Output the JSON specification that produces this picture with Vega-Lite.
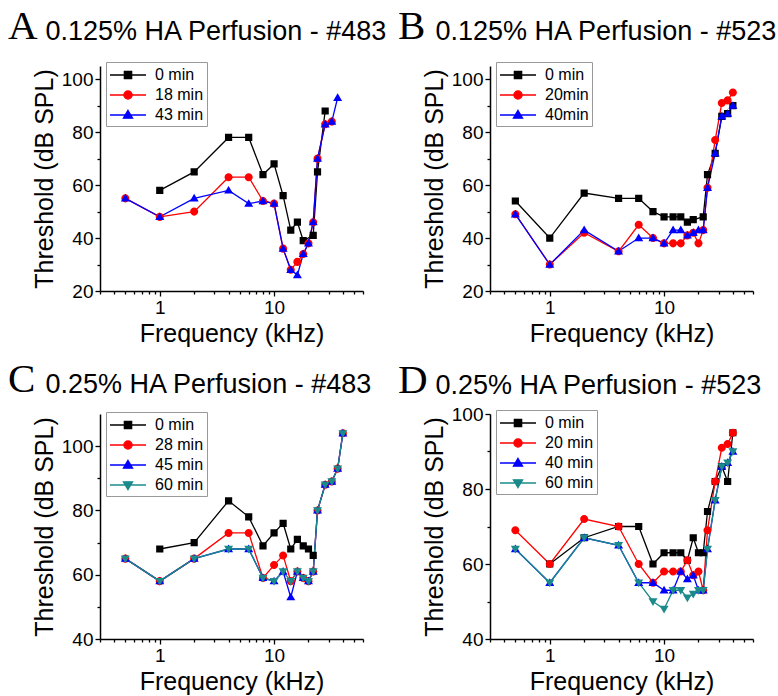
{
 "$schema": "https://vega.github.io/schema/vega-lite/v6.json",
 "padding": {"left": 8, "top": 5, "right": 5, "bottom": 5},
 "columns": 2,
 "spacing": {"row": 123, "column": 127},
 "bounds": "flush",
 "datasets": {
  "A": [
   {"series":"0 min","freq":1,"db":58},{"series":"0 min","freq":2,"db":65},{"series":"0 min","freq":4,"db":78},{"series":"0 min","freq":6,"db":78},{"series":"0 min","freq":8,"db":64},{"series":"0 min","freq":10,"db":68},{"series":"0 min","freq":12,"db":56},{"series":"0 min","freq":14,"db":43},{"series":"0 min","freq":16,"db":46},{"series":"0 min","freq":18,"db":39},{"series":"0 min","freq":22,"db":41},{"series":"0 min","freq":24,"db":65},{"series":"0 min","freq":28,"db":88},
   {"series":"18 min","freq":0.5,"db":55},{"series":"18 min","freq":1,"db":48},{"series":"18 min","freq":2,"db":50},{"series":"18 min","freq":4,"db":63},{"series":"18 min","freq":6,"db":63},{"series":"18 min","freq":8,"db":54},{"series":"18 min","freq":10,"db":53},{"series":"18 min","freq":12,"db":36},{"series":"18 min","freq":14,"db":28},{"series":"18 min","freq":16,"db":31},{"series":"18 min","freq":18,"db":34},{"series":"18 min","freq":20,"db":38},{"series":"18 min","freq":22,"db":46},{"series":"18 min","freq":24,"db":70},{"series":"18 min","freq":28,"db":83},{"series":"18 min","freq":32,"db":84},
   {"series":"43 min","freq":0.5,"db":55},{"series":"43 min","freq":1,"db":48},{"series":"43 min","freq":2,"db":55},{"series":"43 min","freq":4,"db":58},{"series":"43 min","freq":6,"db":53},{"series":"43 min","freq":8,"db":54},{"series":"43 min","freq":10,"db":53},{"series":"43 min","freq":12,"db":36},{"series":"43 min","freq":14,"db":28},{"series":"43 min","freq":16,"db":26},{"series":"43 min","freq":18,"db":34},{"series":"43 min","freq":20,"db":38},{"series":"43 min","freq":22,"db":46},{"series":"43 min","freq":24,"db":70},{"series":"43 min","freq":28,"db":83},{"series":"43 min","freq":32,"db":84},{"series":"43 min","freq":36,"db":93}
  ],
  "B": [
   {"series":"0 min","freq":0.5,"db":54},{"series":"0 min","freq":1,"db":40},{"series":"0 min","freq":2,"db":57},{"series":"0 min","freq":4,"db":55},{"series":"0 min","freq":6,"db":55},{"series":"0 min","freq":8,"db":50},{"series":"0 min","freq":10,"db":48},{"series":"0 min","freq":12,"db":48},{"series":"0 min","freq":14,"db":48},{"series":"0 min","freq":16,"db":46},{"series":"0 min","freq":18,"db":47},{"series":"0 min","freq":22,"db":48},{"series":"0 min","freq":24,"db":64},{"series":"0 min","freq":28,"db":72},{"series":"0 min","freq":32,"db":86},{"series":"0 min","freq":36,"db":87},{"series":"0 min","freq":40,"db":90},
   {"series":"20min","freq":0.5,"db":49},{"series":"20min","freq":1,"db":30},{"series":"20min","freq":2,"db":42},{"series":"20min","freq":4,"db":35},{"series":"20min","freq":6,"db":45},{"series":"20min","freq":8,"db":40},{"series":"20min","freq":10,"db":38},{"series":"20min","freq":12,"db":38},{"series":"20min","freq":14,"db":38},{"series":"20min","freq":16,"db":41},{"series":"20min","freq":18,"db":42},{"series":"20min","freq":20,"db":38},{"series":"20min","freq":22,"db":43},{"series":"20min","freq":24,"db":59},{"series":"20min","freq":28,"db":77},{"series":"20min","freq":32,"db":91},{"series":"20min","freq":36,"db":92},{"series":"20min","freq":40,"db":95},
   {"series":"40min","freq":0.5,"db":49},{"series":"40min","freq":1,"db":30},{"series":"40min","freq":2,"db":43},{"series":"40min","freq":4,"db":35},{"series":"40min","freq":6,"db":40},{"series":"40min","freq":8,"db":40},{"series":"40min","freq":10,"db":38},{"series":"40min","freq":12,"db":43},{"series":"40min","freq":14,"db":43},{"series":"40min","freq":16,"db":41},{"series":"40min","freq":18,"db":42},{"series":"40min","freq":20,"db":43},{"series":"40min","freq":22,"db":43},{"series":"40min","freq":24,"db":59},{"series":"40min","freq":28,"db":72},{"series":"40min","freq":32,"db":86},{"series":"40min","freq":36,"db":87},{"series":"40min","freq":40,"db":90}
  ],
  "C": [
   {"series":"0 min","freq":1,"db":68},{"series":"0 min","freq":2,"db":70},{"series":"0 min","freq":4,"db":83},{"series":"0 min","freq":6,"db":78},{"series":"0 min","freq":8,"db":69},{"series":"0 min","freq":10,"db":73},{"series":"0 min","freq":12,"db":76},{"series":"0 min","freq":14,"db":68},{"series":"0 min","freq":16,"db":71},{"series":"0 min","freq":18,"db":69},{"series":"0 min","freq":20,"db":68},{"series":"0 min","freq":22,"db":66},
   {"series":"28 min","freq":0.5,"db":65},{"series":"28 min","freq":1,"db":58},{"series":"28 min","freq":2,"db":65},{"series":"28 min","freq":4,"db":73},{"series":"28 min","freq":6,"db":73},{"series":"28 min","freq":8,"db":59},{"series":"28 min","freq":10,"db":63},{"series":"28 min","freq":12,"db":66},{"series":"28 min","freq":14,"db":58},{"series":"28 min","freq":16,"db":61},{"series":"28 min","freq":18,"db":59},{"series":"28 min","freq":20,"db":58},{"series":"28 min","freq":22,"db":61},{"series":"28 min","freq":24,"db":80},{"series":"28 min","freq":28,"db":88},{"series":"28 min","freq":32,"db":89},{"series":"28 min","freq":36,"db":93},{"series":"28 min","freq":40,"db":104},
   {"series":"45 min","freq":0.5,"db":65},{"series":"45 min","freq":1,"db":58},{"series":"45 min","freq":2,"db":65},{"series":"45 min","freq":4,"db":68},{"series":"45 min","freq":6,"db":68},{"series":"45 min","freq":8,"db":59},{"series":"45 min","freq":10,"db":58},{"series":"45 min","freq":12,"db":61},{"series":"45 min","freq":14,"db":53},{"series":"45 min","freq":16,"db":61},{"series":"45 min","freq":18,"db":59},{"series":"45 min","freq":20,"db":58},{"series":"45 min","freq":22,"db":61},{"series":"45 min","freq":24,"db":80},{"series":"45 min","freq":28,"db":88},{"series":"45 min","freq":32,"db":89},{"series":"45 min","freq":36,"db":93},{"series":"45 min","freq":40,"db":104},
   {"series":"60 min","freq":0.5,"db":65},{"series":"60 min","freq":1,"db":58},{"series":"60 min","freq":2,"db":65},{"series":"60 min","freq":4,"db":68},{"series":"60 min","freq":6,"db":68},{"series":"60 min","freq":8,"db":59},{"series":"60 min","freq":10,"db":58},{"series":"60 min","freq":12,"db":61},{"series":"60 min","freq":14,"db":58},{"series":"60 min","freq":16,"db":61},{"series":"60 min","freq":18,"db":59},{"series":"60 min","freq":20,"db":58},{"series":"60 min","freq":22,"db":61},{"series":"60 min","freq":24,"db":80},{"series":"60 min","freq":28,"db":88},{"series":"60 min","freq":32,"db":89},{"series":"60 min","freq":36,"db":93},{"series":"60 min","freq":40,"db":104}
  ],
  "D": [
   {"series":"0 min","freq":1,"db":60},{"series":"0 min","freq":2,"db":67},{"series":"0 min","freq":4,"db":70},{"series":"0 min","freq":6,"db":70},{"series":"0 min","freq":8,"db":60},{"series":"0 min","freq":10,"db":63},{"series":"0 min","freq":12,"db":63},{"series":"0 min","freq":14,"db":63},{"series":"0 min","freq":16,"db":61},{"series":"0 min","freq":18,"db":67},{"series":"0 min","freq":20,"db":63},{"series":"0 min","freq":22,"db":63},{"series":"0 min","freq":24,"db":74},{"series":"0 min","freq":28,"db":82},{"series":"0 min","freq":32,"db":86},{"series":"0 min","freq":36,"db":82},{"series":"0 min","freq":40,"db":95},
   {"series":"20 min","freq":0.5,"db":69},{"series":"20 min","freq":1,"db":60},{"series":"20 min","freq":2,"db":72},{"series":"20 min","freq":4,"db":70},{"series":"20 min","freq":6,"db":60},{"series":"20 min","freq":8,"db":55},{"series":"20 min","freq":10,"db":58},{"series":"20 min","freq":12,"db":58},{"series":"20 min","freq":14,"db":58},{"series":"20 min","freq":16,"db":61},{"series":"20 min","freq":18,"db":57},{"series":"20 min","freq":20,"db":58},{"series":"20 min","freq":22,"db":53},{"series":"20 min","freq":24,"db":69},{"series":"20 min","freq":28,"db":82},{"series":"20 min","freq":32,"db":91},{"series":"20 min","freq":36,"db":92},{"series":"20 min","freq":40,"db":95},
   {"series":"40 min","freq":0.5,"db":64},{"series":"40 min","freq":1,"db":55},{"series":"40 min","freq":2,"db":67},{"series":"40 min","freq":4,"db":65},{"series":"40 min","freq":6,"db":55},{"series":"40 min","freq":8,"db":55},{"series":"40 min","freq":10,"db":53},{"series":"40 min","freq":12,"db":53},{"series":"40 min","freq":14,"db":58},{"series":"40 min","freq":16,"db":56},{"series":"40 min","freq":18,"db":57},{"series":"40 min","freq":20,"db":53},{"series":"40 min","freq":22,"db":53},{"series":"40 min","freq":24,"db":64},{"series":"40 min","freq":28,"db":77},{"series":"40 min","freq":32,"db":86},{"series":"40 min","freq":36,"db":87},{"series":"40 min","freq":40,"db":90},
   {"series":"60 min","freq":0.5,"db":64},{"series":"60 min","freq":1,"db":55},{"series":"60 min","freq":2,"db":67},{"series":"60 min","freq":4,"db":65},{"series":"60 min","freq":6,"db":55},{"series":"60 min","freq":8,"db":50},{"series":"60 min","freq":10,"db":48},{"series":"60 min","freq":12,"db":53},{"series":"60 min","freq":14,"db":53},{"series":"60 min","freq":16,"db":51},{"series":"60 min","freq":18,"db":52},{"series":"60 min","freq":20,"db":53},{"series":"60 min","freq":22,"db":53},{"series":"60 min","freq":24,"db":64},{"series":"60 min","freq":28,"db":77},{"series":"60 min","freq":32,"db":86},{"series":"60 min","freq":36,"db":87},{"series":"60 min","freq":40,"db":90}
  ]
 },
 "concat": [
  {
   "title": {"text": "A", "subtitle": "\u200b\u00a0\u00a0\u00a0\u00a0\u00a00.125% HA Perfusion - #483", "offset": 14},
   "width": 263, "height": 225,
   "data": {"name": "A"},
   "encoding": {
    "color": {"field": "series", "type": "nominal",
     "scale": {"domain": ["0 min", "18 min", "43 min"], "range": ["#000000", "#ff0000", "#0000ff"]},
     "legend": {"orient": "none", "legendX": 6, "legendY": -4, "title": null, "padding": 3, "strokeColor": "#999999", "fillColor": "#ffffff", "labelFontSize": 16, "labelColor": "#000000", "symbolSize": 324, "symbolOffset": 9, "labelOffset": 17, "rowPadding": 2, "symbolStrokeWidth": 1.4, "symbolOpacity": 1}
    }
   },
   "layer": [
    {"mark": {"type": "line", "strokeWidth": 1.3},
     "encoding": {
      "x": {"field": "freq", "type": "quantitative", "scale": {"type": "log", "domain": [0.3, 60], "nice": false}, "axis": {"values": [1, 10], "format": "d", "tickSize": 5, "labelPadding": 2, "title": "Frequency (kHz)", "titlePadding": 4}},
      "y": {"field": "db", "type": "quantitative", "scale": {"domain": [20, 105], "nice": false}, "axis": {"values": [20, 40, 60, 80, 100], "tickSize": 5, "labelPadding": 2, "title": "Threshold (dB SPL)", "titlePadding": 4}}
     }},
    {"mark": {"type": "point", "filled": true, "size": 324, "opacity": 1, "strokeWidth": 0},
     "encoding": {
      "x": {"field": "freq", "type": "quantitative", "axis": {"orient": "bottom", "values": [0.3,0.4,0.5,0.6,0.7,0.8,0.9,2,3,4,5,6,7,8,9,20,30,40,50,60], "labels": false, "domain": false, "tickSize": 3, "title": null}},
      "y": {"field": "db", "type": "quantitative", "axis": {"orient": "left", "values": [30, 50, 70, 90], "labels": false, "domain": false, "tickSize": 3, "title": null}},
      "shape": {"field": "series", "type": "nominal", "scale": {"domain": ["0 min", "18 min", "43 min"], "range": ["M-2,0H2M-0.4,-0.4H0.4V0.4H-0.4Z", "M-2,0H2M0.45,0A0.45,0.45,0,1,1,-0.45,0A0.45,0.45,0,1,1,0.45,0Z", "M-2,0H2M0,-0.5L0.5,0.35H-0.5Z"]}, "legend": null},
      "stroke": {"field": "series", "type": "nominal", "scale": {"domain": ["0 min", "18 min", "43 min"], "range": ["#000000", "#ff0000", "#0000ff"]}, "legend": null}
     }}
   ],
   "resolve": {"axis": {"x": "independent", "y": "independent"}}
  },
  {
   "title": {"text": "B", "subtitle": "\u200b\u00a0\u00a0\u00a0\u00a0\u00a00.125% HA Perfusion - #523", "offset": 14},
   "width": 263, "height": 225,
   "data": {"name": "B"},
   "encoding": {
    "color": {"field": "series", "type": "nominal",
     "scale": {"domain": ["0 min", "20min", "40min"], "range": ["#000000", "#ff0000", "#0000ff"]},
     "legend": {"orient": "none", "legendX": 6, "legendY": -4, "title": null, "padding": 3, "strokeColor": "#999999", "fillColor": "#ffffff", "labelFontSize": 16, "labelColor": "#000000", "symbolSize": 324, "symbolOffset": 9, "labelOffset": 17, "rowPadding": 2, "symbolStrokeWidth": 1.4, "symbolOpacity": 1}
    }
   },
   "layer": [
    {"mark": {"type": "line", "strokeWidth": 1.3},
     "encoding": {
      "x": {"field": "freq", "type": "quantitative", "scale": {"type": "log", "domain": [0.3, 60], "nice": false}, "axis": {"values": [1, 10], "format": "d", "tickSize": 5, "labelPadding": 2, "title": "Frequency (kHz)", "titlePadding": 4}},
      "y": {"field": "db", "type": "quantitative", "scale": {"domain": [20, 105], "nice": false}, "axis": {"values": [20, 40, 60, 80, 100], "tickSize": 5, "labelPadding": 2, "title": "Threshold (dB SPL)", "titlePadding": 4}}
     }},
    {"mark": {"type": "point", "filled": true, "size": 324, "opacity": 1, "strokeWidth": 0},
     "encoding": {
      "x": {"field": "freq", "type": "quantitative", "axis": {"orient": "bottom", "values": [0.3,0.4,0.5,0.6,0.7,0.8,0.9,2,3,4,5,6,7,8,9,20,30,40,50,60], "labels": false, "domain": false, "tickSize": 3, "title": null}},
      "y": {"field": "db", "type": "quantitative", "axis": {"orient": "left", "values": [30, 50, 70, 90], "labels": false, "domain": false, "tickSize": 3, "title": null}},
      "shape": {"field": "series", "type": "nominal", "scale": {"domain": ["0 min", "20min", "40min"], "range": ["M-2,0H2M-0.4,-0.4H0.4V0.4H-0.4Z", "M-2,0H2M0.45,0A0.45,0.45,0,1,1,-0.45,0A0.45,0.45,0,1,1,0.45,0Z", "M-2,0H2M0,-0.5L0.5,0.35H-0.5Z"]}, "legend": null},
      "stroke": {"field": "series", "type": "nominal", "scale": {"domain": ["0 min", "20min", "40min"], "range": ["#000000", "#ff0000", "#0000ff"]}, "legend": null}
     }}
   ],
   "resolve": {"axis": {"x": "independent", "y": "independent"}}
  },
  {
   "title": {"text": "C", "subtitle": "\u200b\u00a0\u00a0\u00a0\u00a0\u00a00.25% HA Perfusion - #483", "offset": 11},
   "width": 263, "height": 225,
   "data": {"name": "C"},
   "encoding": {
    "color": {"field": "series", "type": "nominal",
     "scale": {"domain": ["0 min", "28 min", "45 min", "60 min"], "range": ["#000000", "#ff0000", "#0000ff", "#1a8a8a"]},
     "legend": {"orient": "none", "legendX": 6, "legendY": -2, "title": null, "padding": 3, "strokeColor": "#999999", "fillColor": "#ffffff", "labelFontSize": 16, "labelColor": "#000000", "symbolSize": 324, "symbolOffset": 9, "labelOffset": 17, "rowPadding": 2, "symbolStrokeWidth": 1.4, "symbolOpacity": 1}
    }
   },
   "layer": [
    {"mark": {"type": "line", "strokeWidth": 1.3},
     "encoding": {
      "x": {"field": "freq", "type": "quantitative", "scale": {"type": "log", "domain": [0.3, 60], "nice": false}, "axis": {"values": [1, 10], "format": "d", "tickSize": 5, "labelPadding": 2, "title": "Frequency (kHz)", "titlePadding": 4}},
      "y": {"field": "db", "type": "quantitative", "scale": {"domain": [40, 110], "nice": false}, "axis": {"values": [40, 60, 80, 100], "tickSize": 5, "labelPadding": 2, "title": "Threshold (dB SPL)", "titlePadding": 4}}
     }},
    {"mark": {"type": "point", "filled": true, "size": 324, "opacity": 1, "strokeWidth": 0},
     "encoding": {
      "x": {"field": "freq", "type": "quantitative", "axis": {"orient": "bottom", "values": [0.3,0.4,0.5,0.6,0.7,0.8,0.9,2,3,4,5,6,7,8,9,20,30,40,50,60], "labels": false, "domain": false, "tickSize": 3, "title": null}},
      "y": {"field": "db", "type": "quantitative", "axis": {"orient": "left", "values": [50, 70, 90], "labels": false, "domain": false, "tickSize": 3, "title": null}},
      "shape": {"field": "series", "type": "nominal", "scale": {"domain": ["0 min", "28 min", "45 min", "60 min"], "range": ["M-2,0H2M-0.4,-0.4H0.4V0.4H-0.4Z", "M-2,0H2M0.45,0A0.45,0.45,0,1,1,-0.45,0A0.45,0.45,0,1,1,0.45,0Z", "M-2,0H2M0,-0.5L0.5,0.35H-0.5Z", "M-2,0H2M0,0.5L0.5,-0.35H-0.5Z"]}, "legend": null},
      "stroke": {"field": "series", "type": "nominal", "scale": {"domain": ["0 min", "28 min", "45 min", "60 min"], "range": ["#000000", "#ff0000", "#0000ff", "#1a8a8a"]}, "legend": null}
     }}
   ],
   "resolve": {"axis": {"x": "independent", "y": "independent"}}
  },
  {
   "title": {"text": "D", "subtitle": "\u200b\u00a0\u00a0\u00a0\u00a0\u00a00.25% HA Perfusion - #523", "offset": 3},
   "width": 263, "height": 225,
   "data": {"name": "D"},
   "encoding": {
    "color": {"field": "series", "type": "nominal",
     "scale": {"domain": ["0 min", "20 min", "40 min", "60 min"], "range": ["#000000", "#ff0000", "#0000ff", "#1a8a8a"]},
     "legend": {"orient": "none", "legendX": 6, "legendY": -4, "title": null, "padding": 3, "strokeColor": "#999999", "fillColor": "#ffffff", "labelFontSize": 16, "labelColor": "#000000", "symbolSize": 324, "symbolOffset": 9, "labelOffset": 17, "rowPadding": 2, "symbolStrokeWidth": 1.4, "symbolOpacity": 1}
    }
   },
   "layer": [
    {"mark": {"type": "line", "strokeWidth": 1.3},
     "encoding": {
      "x": {"field": "freq", "type": "quantitative", "scale": {"type": "log", "domain": [0.3, 60], "nice": false}, "axis": {"values": [1, 10], "format": "d", "tickSize": 5, "labelPadding": 2, "title": "Frequency (kHz)", "titlePadding": 4}},
      "y": {"field": "db", "type": "quantitative", "scale": {"domain": [40, 100], "nice": false}, "axis": {"values": [40, 60, 80, 100], "tickSize": 5, "labelPadding": 2, "title": "Threshold (dB SPL)", "titlePadding": 4}}
     }},
    {"mark": {"type": "point", "filled": true, "size": 324, "opacity": 1, "strokeWidth": 0},
     "encoding": {
      "x": {"field": "freq", "type": "quantitative", "axis": {"orient": "bottom", "values": [0.3,0.4,0.5,0.6,0.7,0.8,0.9,2,3,4,5,6,7,8,9,20,30,40,50,60], "labels": false, "domain": false, "tickSize": 3, "title": null}},
      "y": {"field": "db", "type": "quantitative", "axis": {"orient": "left", "values": [50, 70, 90], "labels": false, "domain": false, "tickSize": 3, "title": null}},
      "shape": {"field": "series", "type": "nominal", "scale": {"domain": ["0 min", "20 min", "40 min", "60 min"], "range": ["M-2,0H2M-0.4,-0.4H0.4V0.4H-0.4Z", "M-2,0H2M0.45,0A0.45,0.45,0,1,1,-0.45,0A0.45,0.45,0,1,1,0.45,0Z", "M-2,0H2M0,-0.5L0.5,0.35H-0.5Z", "M-2,0H2M0,0.5L0.5,-0.35H-0.5Z"]}, "legend": null},
      "stroke": {"field": "series", "type": "nominal", "scale": {"domain": ["0 min", "20 min", "40 min", "60 min"], "range": ["#000000", "#ff0000", "#0000ff", "#1a8a8a"]}, "legend": null}
     }}
   ],
   "resolve": {"axis": {"x": "independent", "y": "independent"}}
  }
 ],
 "resolve": {"scale": {"color": "independent", "shape": "independent", "stroke": "independent"}},
 "config": {
  "font": "Liberation Sans",
  "view": {"stroke": null},
  "axis": {"domainColor": "#000000", "domainWidth": 1.5, "tickColor": "#000000", "tickWidth": 1.3, "labelColor": "#000000", "titleColor": "#000000", "labelFont": "Liberation Sans", "titleFont": "Liberation Sans", "labelFontSize": 19, "titleFontSize": 25, "titleFontWeight": "normal", "grid": false},
  "title": {"anchor": "start", "frame": "group", "dx": -92, "offset": 22, "font": "Liberation Serif", "fontSize": 41, "fontWeight": "normal", "color": "#000000", "subtitleFont": "Liberation Sans", "subtitleFontSize": 27, "subtitleColor": "#000000", "subtitlePadding": -29}
 }
}
